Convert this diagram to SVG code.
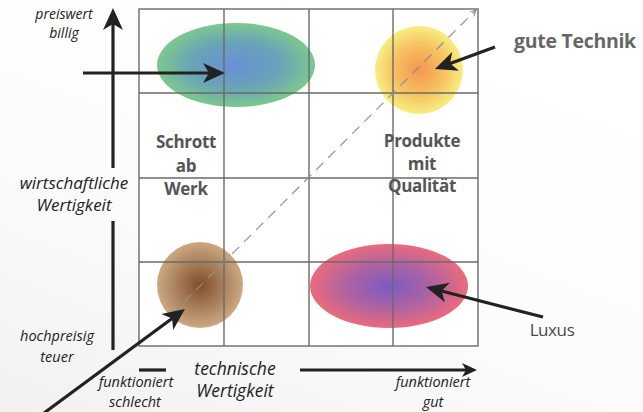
<svg xmlns="http://www.w3.org/2000/svg" width="643" height="412" viewBox="0 0 643 412">
<style>
.it{font-family:"Open Sans","DejaVu Sans",sans-serif;font-style:italic;fill:#222;text-anchor:middle}
.bd{font-family:"Open Sans","DejaVu Sans",sans-serif;font-weight:bold;fill:#555;text-anchor:middle;letter-spacing:-0.3px}
.grid{stroke:#6a6a6a;stroke-width:1.4;fill:none}
.arr{stroke:#222;stroke-width:3.2;fill:none}
</style>
<defs>
<marker id="ah" markerUnits="userSpaceOnUse" markerWidth="24" markerHeight="22" refX="8" refY="10" orient="auto" overflow="visible">
<path d="M0,0 L22,10 L0,20 L6,10 z" fill="#222"/>
</marker>
<marker id="ahs" markerUnits="userSpaceOnUse" markerWidth="16" markerHeight="16" refX="5" refY="7" orient="auto" overflow="visible">
<path d="M0,0 L15,7 L0,14 L4,7 z" fill="#222"/>
</marker>
<marker id="ahd" markerUnits="userSpaceOnUse" markerWidth="8" markerHeight="8" refX="6" refY="3" orient="auto" overflow="visible">
<path d="M0,0 L6,3 L0,6" fill="none" stroke="#888" stroke-width="1"/>
</marker>
<radialGradient id="gGreen"><stop offset="0" stop-color="#6a8fd6"/><stop offset="0.55" stop-color="#6aa3b8"/><stop offset="1" stop-color="#7cc88e"/></radialGradient>
<radialGradient id="gYellow"><stop offset="0" stop-color="#f5954f"/><stop offset="0.6" stop-color="#f6c462"/><stop offset="1" stop-color="#f7ee82"/></radialGradient>
<radialGradient id="gBrown"><stop offset="0" stop-color="#7f4e2a"/><stop offset="0.6" stop-color="#ad8460"/><stop offset="1" stop-color="#cba982"/></radialGradient>
<radialGradient id="gPink"><stop offset="0" stop-color="#7a5cc2"/><stop offset="0.55" stop-color="#b063a0"/><stop offset="1" stop-color="#ea6b7c"/></radialGradient>
<linearGradient id="bg" x1="0" y1="1" x2="0.6" y2="0"><stop offset="0" stop-color="#f1f1f1"/><stop offset="0.5" stop-color="#fcfcfc"/><stop offset="1" stop-color="#ffffff"/></linearGradient>
</defs>
<rect width="643" height="412" fill="url(#bg)"/>
<rect x="139" y="9" width="339" height="337" fill="#fff"/>

<g id="blobs">
<ellipse id="billig-blob" cx="236" cy="65" rx="79" ry="42" fill="url(#gGreen)"/>
<circle id="technik-blob" cx="419" cy="70" r="44" fill="url(#gYellow)"/>
<circle id="schrott-blob" cx="200" cy="285" r="43" fill="url(#gBrown)"/>
<ellipse id="luxus-blob" cx="389" cy="286" rx="79" ry="42" fill="url(#gPink)"/>
</g>

<g id="grid" class="grid">
<rect x="139" y="9" width="339" height="337"/>
<line x1="224" y1="9" x2="224" y2="346"/>
<line x1="309" y1="9" x2="309" y2="346"/>
<line x1="393" y1="9" x2="393" y2="346"/>
<line x1="139" y1="93" x2="478" y2="93"/>
<line x1="139" y1="178" x2="478" y2="178"/>
<line x1="139" y1="262" x2="478" y2="262"/>
</g>

<g id="connectors">
<line x1="172" y1="314" x2="476" y2="10" stroke="#8f8f8f" stroke-width="1.2" stroke-dasharray="10 7" marker-end="url(#ahd)"/>
<line class="arr" x1="113" y1="168" x2="113" y2="22" marker-end="url(#ah)"/>
<line class="arr" x1="113" y1="221" x2="113" y2="350"/>
<line class="arr" x1="83" y1="73" x2="211" y2="73" marker-end="url(#ah)"/>
<line class="arr" x1="495" y1="47" x2="448.1" y2="64.2" marker-end="url(#ah)"/>
<line class="arr" x1="543" y1="317" x2="439.6" y2="290.5" marker-end="url(#ah)"/>
<line class="arr" x1="44" y1="413" x2="173.7" y2="317.3" marker-end="url(#ah)"/>
<line class="arr" x1="139" y1="370" x2="166" y2="370"/>
<line class="arr" x1="300" y1="370" x2="467" y2="370" marker-end="url(#ahs)"/>
</g>

<g id="labels">
<text class="it" x="64" y="19" font-size="14">preiswert</text>
<text class="it" x="64" y="38" font-size="14">billig</text>
<text class="it" x="74" y="189" font-size="17">wirtschaftliche</text>
<text class="it" x="74" y="211" font-size="17">Wertigkeit</text>
<text class="it" x="57" y="341" font-size="14.5">hochpreisig</text>
<text class="it" x="57" y="362" font-size="14.5">teuer</text>
<text class="it" x="136" y="387" font-size="14.5">funktioniert</text>
<text class="it" x="135" y="407" font-size="14.5">schlecht</text>
<text class="it" x="235" y="375" font-size="17.5">technische</text>
<text class="it" x="235" y="397" font-size="17.5">Wertigkeit</text>
<text class="it" x="433" y="387" font-size="14.5">funktioniert</text>
<text class="it" x="433" y="407" font-size="14.5">gut</text>
</g>
<g id="schrott">
<text class="bd" x="186" y="148" font-size="17">Schrott</text>
<text class="bd" x="186" y="172" font-size="17">ab</text>
<text class="bd" x="186" y="195" font-size="17">Werk</text>
</g>
<g id="produkte">
<text class="bd" x="422" y="147" font-size="17">Produkte</text>
<text class="bd" x="422" y="170" font-size="17">mit</text>
<text class="bd" x="422" y="192" font-size="17">Qualität</text>
</g>
<text id="gute-technik" class="bd" x="575" y="48" font-size="19.5" style="fill:#666">gute Technik</text>
<text id="luxus" x="552" y="336" font-size="17" text-anchor="middle" letter-spacing="-0.4" font-family="'Open Sans','DejaVu Sans',sans-serif" fill="#4a4a4a">Luxus</text>
</svg>
